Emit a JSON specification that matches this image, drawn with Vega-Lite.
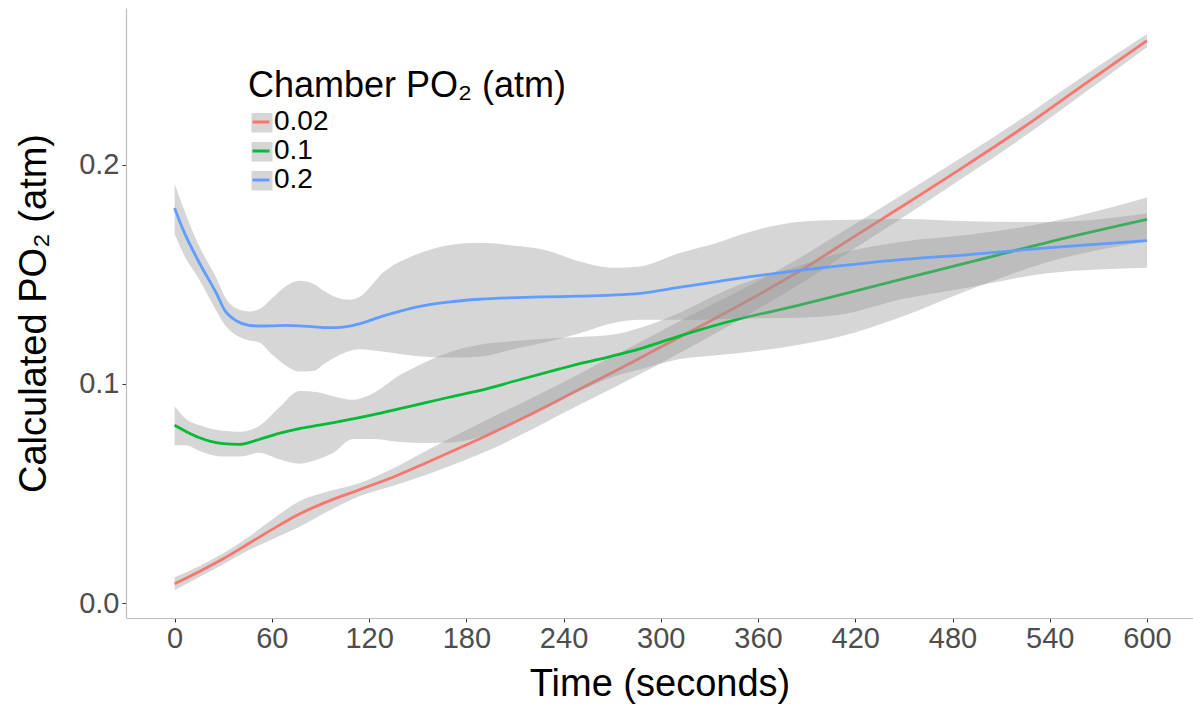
{
  "$schema": "https://vega.github.io/schema/vega-lite/v6.json",
  "width": 1067,
  "height": 610,
  "autosize": {"type": "none"},
  "padding": {"left": 126, "top": 8, "right": 0, "bottom": 88},
  "background": "white",
  "config": {
    "font": "Liberation Sans",
    "view": {"stroke": null},
    "axis": {"grid": false}
  },
  "data": {
    "values": [
      {"series": "0.02", "t": 0, "fit": 0.0088, "lo": 0.0058, "hi": 0.0118},
      {"series": "0.02", "t": 15, "fit": 0.0143, "lo": 0.0118, "hi": 0.0168},
      {"series": "0.02", "t": 30, "fit": 0.0202, "lo": 0.0177, "hi": 0.0227},
      {"series": "0.02", "t": 45, "fit": 0.0268, "lo": 0.0238, "hi": 0.0298},
      {"series": "0.02", "t": 60, "fit": 0.0335, "lo": 0.0290, "hi": 0.0380},
      {"series": "0.02", "t": 77, "fit": 0.0406, "lo": 0.0348, "hi": 0.0464},
      {"series": "0.02", "t": 95, "fit": 0.0465, "lo": 0.0420, "hi": 0.0510},
      {"series": "0.02", "t": 114, "fit": 0.0517, "lo": 0.0487, "hi": 0.0547},
      {"series": "0.02", "t": 135, "fit": 0.0575, "lo": 0.0535, "hi": 0.0615},
      {"series": "0.02", "t": 155, "fit": 0.0639, "lo": 0.0584, "hi": 0.0694},
      {"series": "0.02", "t": 175, "fit": 0.0705, "lo": 0.0640, "hi": 0.0770},
      {"series": "0.02", "t": 196, "fit": 0.0776, "lo": 0.0704, "hi": 0.0848},
      {"series": "0.02", "t": 217, "fit": 0.0851, "lo": 0.0779, "hi": 0.0923},
      {"series": "0.02", "t": 238, "fit": 0.0930, "lo": 0.0860, "hi": 0.1000},
      {"series": "0.02", "t": 260, "fit": 0.1014, "lo": 0.0942, "hi": 0.1086},
      {"series": "0.02", "t": 287, "fit": 0.1117, "lo": 0.1044, "hi": 0.1190},
      {"series": "0.02", "t": 303, "fit": 0.1180, "lo": 0.1107, "hi": 0.1253},
      {"series": "0.02", "t": 330, "fit": 0.1285, "lo": 0.1215, "hi": 0.1355},
      {"series": "0.02", "t": 355, "fit": 0.1385, "lo": 0.1320, "hi": 0.1450},
      {"series": "0.02", "t": 388, "fit": 0.1525, "lo": 0.1465, "hi": 0.1585},
      {"series": "0.02", "t": 420, "fit": 0.1675, "lo": 0.1620, "hi": 0.1730},
      {"series": "0.02", "t": 450, "fit": 0.1815, "lo": 0.1763, "hi": 0.1867},
      {"series": "0.02", "t": 490, "fit": 0.2005, "lo": 0.1957, "hi": 0.2053},
      {"series": "0.02", "t": 524, "fit": 0.2172, "lo": 0.2127, "hi": 0.2217},
      {"series": "0.02", "t": 560, "fit": 0.2360, "lo": 0.2320, "hi": 0.2400},
      {"series": "0.02", "t": 600, "fit": 0.2566, "lo": 0.2536, "hi": 0.2596},

      {"series": "0.1", "t": 0, "fit": 0.0811, "lo": 0.0720, "hi": 0.0898},
      {"series": "0.1", "t": 7, "fit": 0.0783, "lo": 0.0720, "hi": 0.0840},
      {"series": "0.1", "t": 15, "fit": 0.0755, "lo": 0.0695, "hi": 0.0812},
      {"series": "0.1", "t": 30, "fit": 0.0727, "lo": 0.0668, "hi": 0.0786},
      {"series": "0.1", "t": 40, "fit": 0.0724, "lo": 0.0668, "hi": 0.0782},
      {"series": "0.1", "t": 52, "fit": 0.0746, "lo": 0.0686, "hi": 0.0807},
      {"series": "0.1", "t": 65, "fit": 0.0775, "lo": 0.0655, "hi": 0.0895},
      {"series": "0.1", "t": 77, "fit": 0.0796, "lo": 0.0636, "hi": 0.0967},
      {"series": "0.1", "t": 88, "fit": 0.0810, "lo": 0.0655, "hi": 0.0962},
      {"series": "0.1", "t": 98, "fit": 0.0823, "lo": 0.0686, "hi": 0.0944},
      {"series": "0.1", "t": 110, "fit": 0.0840, "lo": 0.0748, "hi": 0.0928},
      {"series": "0.1", "t": 122, "fit": 0.0858, "lo": 0.0748, "hi": 0.0955},
      {"series": "0.1", "t": 139, "fit": 0.0887, "lo": 0.0735, "hi": 0.1040},
      {"series": "0.1", "t": 155, "fit": 0.0914, "lo": 0.0730, "hi": 0.1100},
      {"series": "0.1", "t": 170, "fit": 0.0940, "lo": 0.0732, "hi": 0.1145},
      {"series": "0.1", "t": 188, "fit": 0.0969, "lo": 0.0757, "hi": 0.1178},
      {"series": "0.1", "t": 210, "fit": 0.1013, "lo": 0.0829, "hi": 0.1195},
      {"series": "0.1", "t": 237, "fit": 0.1067, "lo": 0.0925, "hi": 0.1209},
      {"series": "0.1", "t": 250, "fit": 0.1092, "lo": 0.0968, "hi": 0.1214},
      {"series": "0.1", "t": 270, "fit": 0.1127, "lo": 0.1030, "hi": 0.1224},
      {"series": "0.1", "t": 287, "fit": 0.1160, "lo": 0.1065, "hi": 0.1255},
      {"series": "0.1", "t": 311, "fit": 0.1217, "lo": 0.1112, "hi": 0.1322},
      {"series": "0.1", "t": 336, "fit": 0.1272, "lo": 0.1132, "hi": 0.1412},
      {"series": "0.1", "t": 349, "fit": 0.1297, "lo": 0.1141, "hi": 0.1453},
      {"series": "0.1", "t": 386, "fit": 0.1360, "lo": 0.1180, "hi": 0.1540},
      {"series": "0.1", "t": 410, "fit": 0.1405, "lo": 0.1215, "hi": 0.1595},
      {"series": "0.1", "t": 450, "fit": 0.1480, "lo": 0.1310, "hi": 0.1650},
      {"series": "0.1", "t": 490, "fit": 0.1554, "lo": 0.1428, "hi": 0.1680},
      {"series": "0.1", "t": 540, "fit": 0.1648, "lo": 0.1558, "hi": 0.1738},
      {"series": "0.1", "t": 600, "fit": 0.1750, "lo": 0.1650, "hi": 0.1850},

      {"series": "0.2", "t": 0, "fit": 0.1802, "lo": 0.1684, "hi": 0.1913},
      {"series": "0.2", "t": 5, "fit": 0.1707, "lo": 0.1600, "hi": 0.1810},
      {"series": "0.2", "t": 15, "fit": 0.1556, "lo": 0.1478, "hi": 0.1630},
      {"series": "0.2", "t": 26, "fit": 0.1410, "lo": 0.1330, "hi": 0.1480},
      {"series": "0.2", "t": 31, "fit": 0.1335, "lo": 0.1268, "hi": 0.1398},
      {"series": "0.2", "t": 38, "fit": 0.1288, "lo": 0.1222, "hi": 0.1345},
      {"series": "0.2", "t": 46, "fit": 0.1267, "lo": 0.1198, "hi": 0.1330},
      {"series": "0.2", "t": 52, "fit": 0.1264, "lo": 0.1190, "hi": 0.1340},
      {"series": "0.2", "t": 60, "fit": 0.1265, "lo": 0.1135, "hi": 0.1390},
      {"series": "0.2", "t": 69, "fit": 0.1267, "lo": 0.1082, "hi": 0.1448},
      {"series": "0.2", "t": 77, "fit": 0.1265, "lo": 0.1056, "hi": 0.1470},
      {"series": "0.2", "t": 86, "fit": 0.1260, "lo": 0.1060, "hi": 0.1455},
      {"series": "0.2", "t": 92, "fit": 0.1257, "lo": 0.1090, "hi": 0.1425},
      {"series": "0.2", "t": 100, "fit": 0.1257, "lo": 0.1125, "hi": 0.1394},
      {"series": "0.2", "t": 108, "fit": 0.1263, "lo": 0.1150, "hi": 0.1384},
      {"series": "0.2", "t": 114, "fit": 0.1274, "lo": 0.1158, "hi": 0.1396},
      {"series": "0.2", "t": 129, "fit": 0.1310, "lo": 0.1146, "hi": 0.1510},
      {"series": "0.2", "t": 149, "fit": 0.1350, "lo": 0.1127, "hi": 0.1590},
      {"series": "0.2", "t": 170, "fit": 0.1374, "lo": 0.1120, "hi": 0.1634},
      {"series": "0.2", "t": 188, "fit": 0.1386, "lo": 0.1124, "hi": 0.1644},
      {"series": "0.2", "t": 210, "fit": 0.1393, "lo": 0.1160, "hi": 0.1630},
      {"series": "0.2", "t": 229, "fit": 0.1397, "lo": 0.1190, "hi": 0.1610},
      {"series": "0.2", "t": 250, "fit": 0.1400, "lo": 0.1231, "hi": 0.1558},
      {"series": "0.2", "t": 270, "fit": 0.1405, "lo": 0.1277, "hi": 0.1530},
      {"series": "0.2", "t": 287, "fit": 0.1413, "lo": 0.1292, "hi": 0.1536},
      {"series": "0.2", "t": 311, "fit": 0.1440, "lo": 0.1292, "hi": 0.1596},
      {"series": "0.2", "t": 336, "fit": 0.1468, "lo": 0.1295, "hi": 0.1646},
      {"series": "0.2", "t": 349, "fit": 0.1482, "lo": 0.1298, "hi": 0.1680},
      {"series": "0.2", "t": 386, "fit": 0.1518, "lo": 0.1302, "hi": 0.1740},
      {"series": "0.2", "t": 410, "fit": 0.1538, "lo": 0.1315, "hi": 0.1748},
      {"series": "0.2", "t": 450, "fit": 0.1568, "lo": 0.1388, "hi": 0.1752},
      {"series": "0.2", "t": 490, "fit": 0.1590, "lo": 0.1440, "hi": 0.1742},
      {"series": "0.2", "t": 540, "fit": 0.1622, "lo": 0.1506, "hi": 0.1738},
      {"series": "0.2", "t": 600, "fit": 0.1654, "lo": 0.1530, "hi": 0.1778}
    ]
  },
  "layer": [
    {
      "transform": [{"filter": "datum.series === '0.02'"}],
      "mark": {"type": "area", "interpolate": "monotone", "fillOpacity": 0.4},
      "encoding": {
        "x": {
          "field": "t", "type": "quantitative",
          "scale": {"domain": [-30, 628.4], "nice": false, "zero": false},
          "axis": {
            "values": [0, 60, 120, 180, 240, 300, 360, 420, 480, 540, 600],
            "title": "Time (seconds)",
            "titleFontSize": 38, "titleFontWeight": "normal", "titleColor": "#000000",
            "titlePadding": 12,
            "labelFontSize": 29, "labelColor": "#4d4d4d", "labelPadding": 2,
            "tickColor": "#333333", "tickSize": 4, "tickWidth": 1,
            "domainColor": "#bdbdbd", "domainWidth": 1.2
          }
        },
        "y": {
          "field": "lo", "type": "quantitative",
          "scale": {"domain": [-0.00684, 0.2715], "nice": false, "zero": false},
          "axis": {
            "values": [0, 0.1, 0.2], "format": ".1f",
            "title": "Calculated PO₂ (atm)",
            "titleFontSize": 38, "titleFontWeight": "normal", "titleColor": "#000000",
            "titlePadding": 25,
            "labelFontSize": 29, "labelColor": "#4d4d4d", "labelPadding": 3,
            "tickColor": "#333333", "tickSize": 4, "tickWidth": 1,
            "domainColor": "#bdbdbd", "domainWidth": 1.2
          }
        },
        "y2": {"field": "hi"},
        "fill": {
          "field": "series", "type": "nominal",
          "scale": {"domain": ["0.02", "0.1", "0.2"], "range": ["#999999", "#999999", "#999999"]},
          "legend": {
            "orient": "none", "legendX": 122, "legendY": 61, "padding": 0,
            "title": "Chamber PO₂ (atm)", "titleLimit": 1000,
            "titleFontSize": 36, "titleFontWeight": "normal", "titleColor": "#000000",
            "titlePadding": 8,
            "symbolType": "square", "symbolSize": 441, "symbolOpacity": 0.4,
            "symbolStrokeWidth": 0,
            "labelExpr": "''", "labelFontSize": 28, "labelOffset": 3,
            "clipHeight": 18, "rowPadding": 1
          }
        }
      }
    },
    {
      "transform": [{"filter": "datum.series === '0.02'"}],
      "mark": {"type": "line", "interpolate": "monotone", "strokeWidth": 2.8},
      "encoding": {
        "x": {"field": "t", "type": "quantitative"},
        "y": {"field": "fit", "type": "quantitative"},
        "stroke": {
          "field": "series", "type": "nominal",
          "scale": {"range": ["#F8766D", "#00BA38", "#619CFF"]},
          "legend": {
            "orient": "none", "legendX": 121, "legendY": 61, "padding": 0,
            "title": "Chamber PO₂ (atm)", "titleLimit": 1000,
            "titleFontSize": 36, "titleFontWeight": "normal", "titleOpacity": 0,
            "titlePadding": 8,
            "symbolType": "stroke", "symbolSize": 289, "symbolStrokeWidth": 3,
            "labelFontSize": 28, "labelColor": "#000000", "labelOffset": -1,
            "clipHeight": 18, "rowPadding": 1
          }
        }
      }
    },
    {
      "transform": [{"filter": "datum.series === '0.1'"}],
      "mark": {"type": "area", "interpolate": "monotone", "fillOpacity": 0.4},
      "encoding": {
        "x": {"field": "t", "type": "quantitative"},
        "y": {"field": "lo", "type": "quantitative"},
        "y2": {"field": "hi"},
        "fill": {"field": "series", "type": "nominal"}
      }
    },
    {
      "transform": [{"filter": "datum.series === '0.1'"}],
      "mark": {"type": "line", "interpolate": "monotone", "strokeWidth": 2.8},
      "encoding": {
        "x": {"field": "t", "type": "quantitative"},
        "y": {"field": "fit", "type": "quantitative"},
        "stroke": {"field": "series", "type": "nominal"}
      }
    },
    {
      "transform": [{"filter": "datum.series === '0.2'"}],
      "mark": {"type": "area", "interpolate": "monotone", "fillOpacity": 0.4},
      "encoding": {
        "x": {"field": "t", "type": "quantitative"},
        "y": {"field": "lo", "type": "quantitative"},
        "y2": {"field": "hi"},
        "fill": {"field": "series", "type": "nominal"}
      }
    },
    {
      "transform": [{"filter": "datum.series === '0.2'"}],
      "mark": {"type": "line", "interpolate": "monotone", "strokeWidth": 2.8},
      "encoding": {
        "x": {"field": "t", "type": "quantitative"},
        "y": {"field": "fit", "type": "quantitative"},
        "stroke": {"field": "series", "type": "nominal"}
      }
    }
  ]
}
